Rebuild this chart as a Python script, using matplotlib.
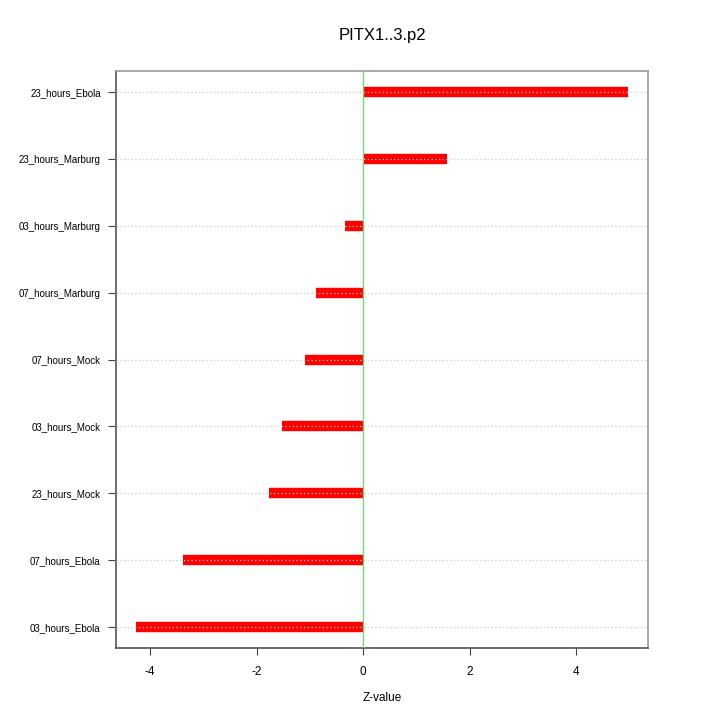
import matplotlib
matplotlib.use("Agg")
import matplotlib.pyplot as plt
import numpy as np

# rows from bottom to top
labels = ["03_hours_Ebola", "07_hours_Ebola", "23_hours_Mock", "03_hours_Mock",
          "07_hours_Mock", "07_hours_Marburg", "03_hours_Marburg",
          "23_hours_Marburg", "23_hours_Ebola"]
zvals = [-4.27, -3.38, -1.77, -1.52, -1.09, -0.88, -0.34, 1.58, 4.98]
xticks = [-4, -2, 0, 2, 4]

plt.rcParams['font.family'] = ['Liberation Sans', 'DejaVu Sans']

fig = plt.figure(figsize=(7.2, 7.2), dpi=100)
ax = fig.add_axes([116/720, 72/720, 532/720, 577/720])

ypos = np.arange(1, len(labels) + 1)
ax.hlines(ypos, 0, zvals, colors="#ff0000", linewidth=7.5, zorder=2)
for y in ypos:
    ax.axhline(y, color="#cccccc", linestyle=(0, (1, 2)), linewidth=0.9, zorder=3)
ax.axvline(0, color="#66dd66", linewidth=0.9, zorder=4)

ax.set_xlim(-4.64, 5.35)
ax.set_ylim(0.68, 9.32)
ax.set_yticks(ypos)
ax.set_yticklabels(labels, fontsize=7)
ax.set_xticks(xticks)
ax.set_xticklabels([str(t) for t in xticks], fontsize=8.5)
ax.tick_params(axis="x", length=5, color="#444444", pad=8)
ax.tick_params(axis="y", length=6, color="#444444", pad=5)
ax.set_xlabel("Z-value", fontsize=8.5, labelpad=10)
ax.set_title("PITX1..3.p2", fontsize=12, pad=22)

ax.spines["left"].set_color("#555555")
ax.spines["bottom"].set_color("#555555")
ax.spines["top"].set_color("#999999")
ax.spines["right"].set_color("#999999")
for s in ax.spines.values():
    s.set_linewidth(1.2)

fig.savefig("out.png", dpi=100)
